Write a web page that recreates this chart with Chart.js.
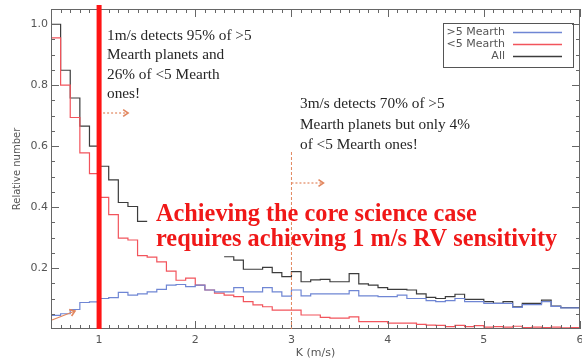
<!DOCTYPE html>
<html>
<head>
<meta charset="utf-8">
<script src="https://cdn.jsdelivr.net/npm/chart.js@4.4.1/dist/chart.umd.min.js"></script>
<style>
    html, body { margin: 0; padding: 0; background: #fff; }
    #wrap { width: 582px; height: 362px; }
</style>
</head>
<body>
<div id="wrap"><canvas id="rvChart" width="582" height="362"></canvas></div>
<script>
// Histogram bin edges, K in m/s (55 bins of 0.1)
const kEdges = [0.5, 0.6, 0.7, 0.8, 0.9,
    1.0, 1.1, 1.2, 1.3, 1.4, 1.5, 1.6, 1.7, 1.8, 1.9,
    2.0, 2.1, 2.2, 2.3, 2.4, 2.5, 2.6, 2.7, 2.8, 2.9,
    3.0, 3.1, 3.2, 3.3, 3.4, 3.5, 3.6, 3.7, 3.8, 3.9,
    4.0, 4.1, 4.2, 4.3, 4.4, 4.5, 4.6, 4.7, 4.8, 4.9,
    5.0, 5.1, 5.2, 5.3, 5.4, 5.5, 5.6, 5.7, 5.8, 5.9, 6.0];

// >5 Mearth planets
const bigPlanets = [0.045, 0.050, 0.064, 0.087, 0.089,
    0.100, 0.103, 0.120, 0.111, 0.115, 0.122, 0.130, 0.144, 0.146, 0.139,
    0.144, 0.128, 0.122, 0.122, 0.136, 0.122, 0.122, 0.136, 0.122, 0.108,
    0.128, 0.109, 0.115, 0.115, 0.115, 0.115, 0.126, 0.109, 0.109, 0.106,
    0.106, 0.111, 0.100, 0.100, 0.093, 0.090, 0.093, 0.100, 0.090, 0.090,
    0.084, 0.084, 0.084, 0.071, 0.080, 0.080, 0.090, 0.074, 0.069, 0.069];

// <5 Mearth planets
const smallPlanets = [0.955, 0.800, 0.694, 0.578, 0.510,
    0.432, 0.375, 0.298, 0.292, 0.241, 0.236, 0.220, 0.190, 0.160, 0.167,
    0.144, 0.128, 0.118, 0.111, 0.106, 0.090, 0.079, 0.073, 0.062, 0.062,
    0.062, 0.046, 0.046, 0.038, 0.036, 0.036, 0.040, 0.024, 0.024, 0.024,
    0.019, 0.019, 0.019, 0.015, 0.013, 0.012, 0.008, 0.012, 0.008, 0.011,
    0.006, 0.008, 0.006, 0.009, 0.005, 0.006, 0.005, 0.006, 0.004, 0.005];

// All planets (hidden behind the text box between 1.5 and 2.3)
const allPlanets = [1.000, 0.849, 0.758, 0.666, 0.600,
    0.534, 0.489, 0.415, 0.402, 0.353, null, null, null, null, null,
    null, null, null, 0.237, 0.226, 0.196, 0.196, 0.202, 0.185, 0.172,
    0.188, 0.155, 0.161, 0.163, 0.155, 0.155, 0.182, 0.148, 0.144, 0.136,
    0.130, 0.130, 0.128, 0.115, 0.104, 0.100, 0.106, 0.114, 0.097, 0.097,
    0.090, 0.084, 0.090, 0.073, 0.084, 0.084, 0.095, 0.075, 0.070, 0.070];

const seriesLabels = ['>5 Mearth', '<5 Mearth', 'All'];
const xTickValues = [1, 2, 3, 4, 5, 6];
const yTickValues = [0.2, 0.4, 0.6, 0.8, 1.0];
const thresholds = [1, 3]; // m/s

const note1 = ['1m/s detects 95% of >5', 'Mearth planets and', '26% of <5 Mearth', 'ones!'];
const note2 = ['3m/s detects 70% of >5', 'Mearth planets but only 4%', 'of <5 Mearth ones!'];
const headline = ['Achieving the core science case', 'requires achieving 1 m/s RV sensitivity'];

const colors = ['#6f86d4', '#f2545c', '#3c3c3c'];
const axisFont = { family: 'DejaVu Sans', size: 11 };
const arrowColor = '#e2875f';

// Turn bin values into a histogram outline
function histOutline(values) {
    const pts = [];
    values.forEach((v, i) => {
        if (v === null) {
            pts.push({ x: kEdges[i], y: null });
            return;
        }
        pts.push({ x: kEdges[i], y: v });
        pts.push({ x: kEdges[i + 1], y: v });
    });
    return pts;
}

function fitSize(ctx, text, width, weight, family) {
    ctx.font = weight + ' 20px "' + family + '"';
    return 20 * width / ctx.measureText(text).width;
}

function drawArrow(ctx, x1, y1, x2, y2, dash) {
    ctx.save();
    ctx.strokeStyle = arrowColor;
    ctx.lineWidth = 1.2;
    ctx.setLineDash(dash);
    ctx.beginPath();
    ctx.moveTo(x1, y1);
    ctx.lineTo(x2, y2);
    ctx.stroke();
    ctx.setLineDash([]);
    const ang = Math.atan2(y2 - y1, x2 - x1);
    ctx.lineWidth = 1.6;
    ctx.beginPath();
    ctx.moveTo(x2 - 6 * Math.cos(ang - 0.6), y2 - 6 * Math.sin(ang - 0.6));
    ctx.lineTo(x2, y2);
    ctx.lineTo(x2 - 6 * Math.cos(ang + 0.6), y2 - 6 * Math.sin(ang + 0.6));
    ctx.stroke();
    ctx.restore();
}

// Frame with inward major/minor ticks on all four sides
const frameTicks = {
    id: 'frameTicks',
    afterDatasetsDraw(chart) {
        const { ctx, chartArea: a, scales: { x, y } } = chart;
        ctx.save();
        ctx.strokeStyle = '#666';
        ctx.lineWidth = 1;
        ctx.strokeRect(a.left + 0.5, a.top + 0.5, a.width - 1, a.height - 1);
        ctx.beginPath();
        kEdges.forEach(v => {
            const px = Math.round(x.getPixelForValue(v)) + 0.5;
            const len = xTickValues.includes(v) ? 8 : 4;
            ctx.moveTo(px, a.bottom); ctx.lineTo(px, a.bottom - len);
            ctx.moveTo(px, a.top); ctx.lineTo(px, a.top + len);
        });
        for (let i = 1; i <= 20; i++) {
            const v = i * 0.05;
            const py = Math.round(y.getPixelForValue(v)) + 0.5;
            const len = i % 4 === 0 ? 8 : 4;
            ctx.moveTo(a.left, py); ctx.lineTo(a.left + len, py);
            ctx.moveTo(a.right, py); ctx.lineTo(a.right - len, py);
        }
        ctx.stroke();
        ctx.restore();
    }
};

// Legend, threshold lines, arrows and notes
const overlay = {
    id: 'overlay',
    afterDraw(chart) {
        const { ctx, chartArea: a, scales: { x, y } } = chart;
        ctx.save();

        // legend box
        ctx.strokeStyle = '#555';
        ctx.lineWidth = 1;
        ctx.strokeRect(443.5, 23.5, 130, 44);
        ctx.font = '11px "DejaVu Sans"';
        ctx.textAlign = 'right';
        ctx.textBaseline = 'middle';
        seriesLabels.forEach((lab, i) => {
            const ly = 32 + i * 12;
            ctx.fillStyle = '#555';
            ctx.fillText(lab, 505, ly);
            ctx.strokeStyle = colors[i];
            ctx.lineWidth = 1.3;
            ctx.beginPath();
            ctx.moveTo(513, ly + 0.5);
            ctx.lineTo(562, ly + 0.5);
            ctx.stroke();
        });

        // 3 m/s dashed line and arrow
        const x3 = x.getPixelForValue(thresholds[1]);
        ctx.strokeStyle = arrowColor;
        ctx.lineWidth = 1;
        ctx.setLineDash([3, 2]);
        ctx.beginPath();
        ctx.moveTo(x3, 152);
        ctx.lineTo(x3, a.bottom);
        ctx.stroke();
        ctx.setLineDash([]);
        drawArrow(ctx, x3, 183, x3 + 32, 183, [2, 2]);

        // 1 m/s thick bar and arrow
        const x1 = x.getPixelForValue(thresholds[0]);
        ctx.fillStyle = '#ff1414';
        ctx.fillRect(x1 - 2.5, 5, 5, a.bottom - 5);
        drawArrow(ctx, x1 + 4, 113, x1 + 29, 113, [2, 2]);

        // small arrow bottom left
        drawArrow(ctx, a.left + 1, 320, a.left + 24, 311, []);

        // notes
        ctx.textAlign = 'left';
        ctx.textBaseline = 'alphabetic';
        ctx.fillStyle = '#262626';
        let s = fitSize(ctx, note2[1], 170, 'normal', 'Liberation Serif');
        ctx.font = s.toFixed(1) + 'px "Liberation Serif"';
        note1.forEach((t, i) => ctx.fillText(t, 107, 40 + i * 19.3));
        note2.forEach((t, i) => ctx.fillText(t, 300, 108 + i * 20.5));

        ctx.fillStyle = '#f01818';
        s = fitSize(ctx, headline[1], 402, 'bold', 'Liberation Serif');
        ctx.font = 'bold ' + s.toFixed(1) + 'px "Liberation Serif"';
        headline.forEach((t, i) => ctx.fillText(t, 156, 221 + i * 25));

        ctx.restore();
    }
};

function initChart() {
    const ctx = document.getElementById('rvChart');
    new Chart(ctx, {
        type: 'line',
        data: {
            datasets: [bigPlanets, smallPlanets, allPlanets].map((vals, i) => ({
                label: seriesLabels[i],
                data: histOutline(vals),
                borderColor: colors[i],
                borderWidth: 1.2,
                pointRadius: 0,
                tension: 0,
                fill: false,
            })),
        },
        options: {
            responsive: false,
            animation: false,
            layout: { padding: { top: 9, right: 2, left: 0, bottom: 0 } },
            plugins: {
                legend: { display: false },
                tooltip: { enabled: false },
            },
            scales: {
                x: {
                    type: 'linear',
                    min: 0.5,
                    max: 6,
                    afterBuildTicks: (s) => { s.ticks = xTickValues.map(v => ({ value: v })); },
                    afterFit: (s) => { s.height = 33; s.paddingLeft = 0; s.paddingRight = 0; },
                    grid: { display: false, drawTicks: false },
                    border: { display: false },
                    ticks: {
                        font: axisFont,
                        color: '#555',
                        padding: 5,
                        maxRotation: 0,
                        autoSkip: false,
                        callback: (v) => String(v),
                    },
                    title: {
                        display: true,
                        text: 'K (m/s)',
                        font: axisFont,
                        color: '#555',
                        padding: { top: 0, bottom: 2 },
                    },
                },
                y: {
                    min: 0,
                    max: 1.05,
                    afterBuildTicks: (s) => { s.ticks = yTickValues.map(v => ({ value: v })); },
                    afterFit: (s) => { s.width = 51; s.paddingTop = 0; s.paddingBottom = 0; },
                    grid: { display: false, drawTicks: false },
                    border: { display: false },
                    ticks: {
                        font: axisFont,
                        color: '#555',
                        padding: 3,
                        callback: (v) => v.toFixed(1),
                    },
                    title: {
                        display: true,
                        text: 'Relative number',
                        font: { family: 'DejaVu Sans', size: 10 },
                        color: '#555',
                        padding: { top: 11, bottom: 0 },
                    },
                },
            },
        },
        plugins: [frameTicks, overlay],
    });
}

document.addEventListener('DOMContentLoaded', initChart);
</script>
</body>
</html>
